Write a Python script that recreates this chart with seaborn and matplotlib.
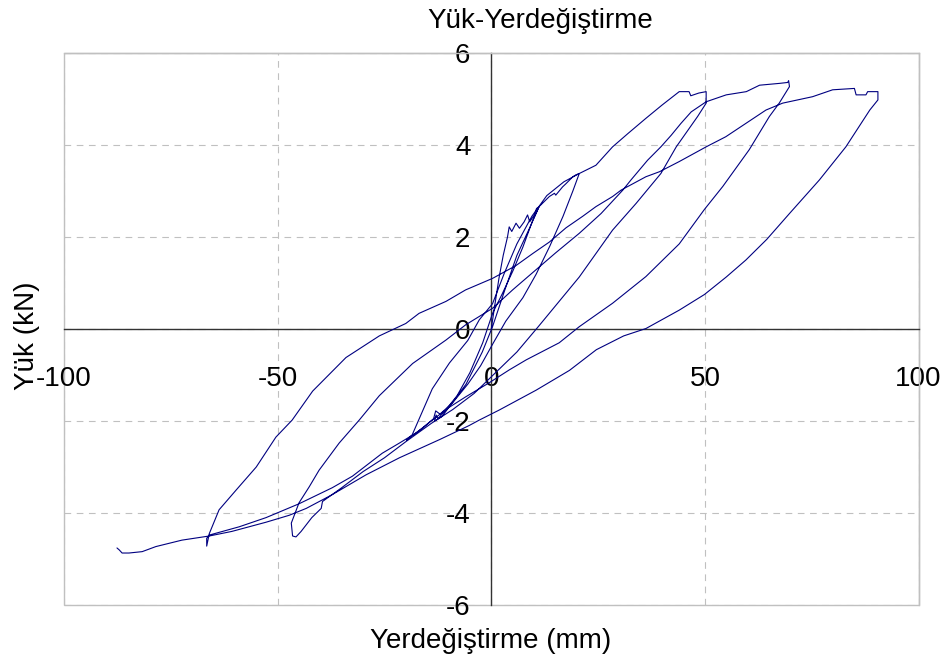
import numpy as np
import pandas as pd
import matplotlib
matplotlib.use("Agg")
import matplotlib.pyplot as plt
import seaborn as sns
from matplotlib.patches import Rectangle

# ---- data, one array pair per half cycle ----
disp_a = [0, 0.8, 1.8, 2.8, 3.8, 4.2, 4.8, 5.8, 6.6, 7.7, 8.5, 9.0, 10.1, 10.6, 11.2]
load_a = [0, 0.5, 1.1, 1.6, 2.0, 2.22, 2.12, 2.3, 2.19, 2.33, 2.48, 2.33, 2.48, 2.62, 2.66]

disp_b = [11.2, 9.7, 7.4, 5.1, 2.6, 0.3, -2.0, -5.0, -8.0, -11.0, -12.5, -12.9, -13.3]
load_b = [2.66, 2.36, 1.78, 1.27, 0.77, 0.34, -0.3, -0.95, -1.45, -1.8, -1.95, -1.87, -2.0]

disp_c = [-13.3, -11.5, -5.9, -2.1, 0.3, 3.0, 6.0, 9.0, 11.2, 13.6, 14.8, 15.1, 16.7, 17.5, 19.1, 19.8, 20.6]
load_c = [-2.0, -1.9, -1.2, -0.5, 0.05, 0.8, 1.6, 2.2, 2.66, 2.88, 2.95, 2.91, 3.09, 3.16, 3.31, 3.35, 3.38]

disp_d = [20.6, 19.1, 16.8, 13.7, 10.5, 7.4, 3.4, 0.5, -2.5, -5.5, -9.0, -12.0, -13.0, -13.5, -16.0, -19.0, -19.8]
load_d = [3.38, 3.0, 2.45, 1.8, 1.19, 0.68, 0.17, -0.3, -0.8, -1.2, -1.6, -1.85, -1.78, -1.95, -2.15, -2.35, -2.42]

disp_e = [-19.8, -18.5, -13.8, -9.8, -5.5, -2.8, 0.3, 3.0, 6.0, 9.5, 13.0, 17.0, 20.6, 24.5, 28.4,
          32.0, 36.2, 40.0, 44.0, 46.3, 46.7, 48.6, 50.3, 50.3]
load_e = [-2.42, -2.3, -1.3, -0.74, -0.25, 0.2, 0.55, 1.2, 1.85, 2.45, 2.9, 3.2, 3.38, 3.56, 3.96,
          4.25, 4.58, 4.87, 5.16, 5.16, 5.07, 5.13, 5.16, 4.98]

disp_f = [50.3, 48.3, 43.3, 39.7, 33.9, 28.4, 20.6, 15.0, 11.0, 6.0, 1.0, -4.0, -9.0, -14.0, -20.0,
          -25.0, -30.0, -35.0, -39.5, -39.8, -42.0, -44.5, -45.7]
load_f = [4.91, 4.62, 3.96, 3.38, 2.73, 2.15, 1.13, 0.5, 0.05, -0.5, -0.95, -1.4, -1.75, -2.05, -2.45,
          -2.8, -3.1, -3.45, -3.75, -3.9, -4.1, -4.4, -4.52]

disp_g = [-45.7, -46.5, -46.8, -45.0, -42.6, -40.3, -35.6, -30.9, -26.2, -18.4, -10.6, -6.0, 0.3, 5.0,
          10.0, 15.0, 20.6, 25.7, 30.8, 32.7, 36.6, 39.7, 42.1, 44.4, 46.8, 50.3, 55.0, 59.7, 62.8,
          67.5, 69.4, 69.6]
load_g = [-4.52, -4.5, -4.22, -3.78, -3.43, -3.07, -2.48, -1.98, -1.45, -0.75, -0.24, 0.09, 0.45, 0.85,
          1.25, 1.65, 2.08, 2.51, 3.02, 3.24, 3.67, 3.96, 4.21, 4.47, 4.72, 4.94, 5.09, 5.16, 5.30,
          5.34, 5.36, 5.40]

disp_h = [69.6, 69.8, 67.4, 65.1, 60.4, 54.2, 49.9, 44.0, 36.2, 28.4, 20.6, 15.9, 8.2, 4.2, -0.5,
          -5.9, -9.8, -13.8, -17.6, -21.5, -25.5, -32.5, -37.2, -45.0, -52.7, -59.0, -66.0, -66.6, -66.6]
load_h = [5.40, 5.27, 4.91, 4.62, 3.9, 3.1, 2.6, 1.85, 1.14, 0.56, 0.05, -0.3, -0.67, -0.89, -1.17,
          -1.47, -1.7, -1.98, -2.26, -2.48, -2.7, -3.2, -3.45, -3.8, -4.1, -4.3, -4.48, -4.55, -4.72]

disp_i = [-66.6, -66.0, -63.7, -59.7, -55.0, -50.4, -46.6, -41.8, -34.0, -26.2, -20.0, -16.9, -10.6,
          -6.0, 0.3, 5.8, 9.7, 13.6, 17.5, 21.4, 24.5, 28.4, 30.4, 36.2, 39.4, 44.0, 50.3, 54.9, 59.6,
          64.3, 68.2, 75.2, 79.9, 85.0, 85.4, 87.7, 88.1, 90.5, 90.5]
load_i = [-4.72, -4.45, -3.93, -3.5, -3.0, -2.35, -1.98, -1.35, -0.62, -0.15, 0.12, 0.34, 0.6,
          0.85, 1.1, 1.38, 1.64, 1.89, 2.2, 2.45, 2.66, 2.88, 3.02, 3.31, 3.42, 3.64, 3.96, 4.18, 4.47,
          4.76, 4.91, 5.05, 5.2, 5.23, 5.09, 5.09, 5.16, 5.16, 4.98]

disp_j = [90.5, 88.6, 83.0, 76.8, 69.8, 64.5, 59.6, 55.0, 49.9, 44.0, 36.2, 31.0, 24.6, 18.3, 10.5, 1.9,
          -2.8, -5.2, -12.0, -21.5, -29.3, -37.2, -43.3, -47.3, -52.7, -60.7, -66.0, -72.4, -78.5,
          -81.7, -84.8, -86.4, -87.1, -87.6]
load_j = [4.98, 4.76, 3.96, 3.24, 2.51, 1.95, 1.5, 1.13, 0.75, 0.41, 0.01, -0.15, -0.45, -0.9, -1.33, -1.76,
          -1.98, -2.1, -2.4, -2.8, -3.17, -3.6, -3.9, -4.05, -4.2, -4.4, -4.5, -4.59, -4.73,
          -4.84, -4.87, -4.87, -4.8, -4.76]

x_ticks = [-100, -50, 0, 50, 100]
y_ticks = [-6, -4, -2, 0, 2, 4, 6]

title_text = "Yük-Yerdeğiştirme"
x_label = "Yerdeğiştirme (mm)"
y_label = "Yük (kN)"

# ---- build table ----
segs_x = [disp_a, disp_b, disp_c, disp_d, disp_e, disp_f, disp_g, disp_h, disp_i, disp_j]
segs_y = [load_a, load_b, load_c, load_d, load_e, load_f, load_g, load_h, load_i, load_j]
df = pd.DataFrame({
    "disp": np.concatenate([np.asarray(s, float) for s in segs_x]),
    "load": np.concatenate([np.asarray(s, float) for s in segs_y]),
})

sns.set_theme(style="white")
plt.rcParams["font.family"] = ["Liberation Sans", "DejaVu Sans"]
plt.rcParams["axes.unicode_minus"] = False
plt.rcParams["text.color"] = "black"

W, H = 947, 661
fig = plt.figure(figsize=(W / 100, H / 100), dpi=100)
fig.patch.set_facecolor("white")
L, R, T, B = 64, 918.5, 53, 605
ax = fig.add_axes([L / W, 1 - B / H, (R - L) / W, (B - T) / H])

sns.lineplot(data=df, x="disp", y="load", sort=False, estimator=None,
             color="#000080", linewidth=0.8, ax=ax, zorder=3)

ax.set_xlim(-100, 100)
ax.set_ylim(-6, 6)
ax.set_xticks(x_ticks)
ax.set_yticks(y_ticks)
ax.set_xticklabels([str(v) for v in x_ticks])
ax.set_yticklabels([str(v) for v in y_ticks])
ax.set_xlabel("")
ax.set_ylabel("")

ax.grid(True, linestyle=(0, (6, 5)), color="#c0c0c0", linewidth=0.8)
ax.set_axisbelow(True)

ax.spines["left"].set_position(("data", 0))
ax.spines["bottom"].set_position(("data", 0))
for s in ["left", "bottom"]:
    ax.spines[s].set_color("#333333")
    ax.spines[s].set_linewidth(1.0)
for s in ["top", "right"]:
    ax.spines[s].set_color("#c0c0c0")
    ax.spines[s].set_linewidth(1.0)
ax.add_patch(Rectangle((0, 0), 1, 1, transform=ax.transAxes, fill=False,
                       edgecolor="#c0c0c0", linewidth=1.0, zorder=0.5, clip_on=False))

ax.tick_params(axis="both", direction="out", length=6, width=1, color="#333333",
               labelsize=20, labelcolor="black")
ax.tick_params(axis="x", pad=21)
ax.tick_params(axis="y", pad=9)

fig.text(540 / W, 1 - 28 / H, title_text, ha="center", va="baseline", fontsize=20, color="black")
fig.text(491 / W, 13 / H, x_label, ha="center", va="baseline", fontsize=20, color="black")
fig.text(27 / W, 1 - 336 / H, y_label, rotation=90, ha="center", va="center", fontsize=20,
         color="black")

fig.savefig("out.png", dpi=100, facecolor="white")
